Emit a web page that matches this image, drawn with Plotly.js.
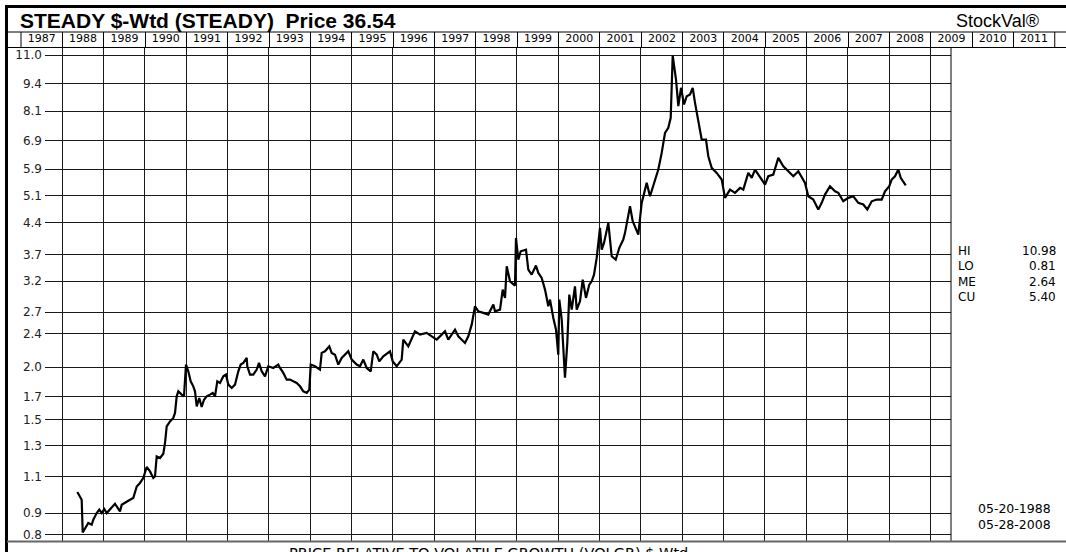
<!DOCTYPE html>
<html><head><meta charset="utf-8">
<script src="https://cdn.plot.ly/plotly-3.0.1.min.js"></script>
<style>html,body{margin:0;padding:0;background:#fff}#chart{width:1066px;height:552px}</style>
</head><body><div id="chart"></div>
<script>
// time in decimal years (weekly series)
const years = [1988.370,1988.476,1988.501,1988.556,1988.636,1988.718,1988.757,1988.839,1988.902,1988.960,
1989.023,1989.081,1989.161,1989.282,1989.323,1989.403,1989.444,1989.565,1989.644,1989.724,1989.807,1989.886,1989.966,
1990.048,1990.128,1990.208,1990.249,1990.290,1990.370,1990.450,1990.491,1990.532,1990.612,1990.692,1990.733,1990.774,1990.813,1990.895,1990.950,
1990.999,1991.054,1991.112,1991.175,1991.216,1991.258,1991.320,1991.378,1991.434,1991.499,1991.579,1991.645,1991.700,1991.756,1991.821,1991.901,1991.966,
1992.022,1992.104,1992.184,1992.264,1992.322,1992.385,1992.467,1992.481,1992.547,1992.626,1992.709,1992.764,1992.830,1992.909,1992.989,
1993.110,1993.231,1993.272,1993.352,1993.434,1993.514,1993.594,1993.676,1993.756,1993.835,1993.918,1993.981,
1994.015,1994.119,1994.239,1994.280,1994.360,1994.464,1994.522,1994.602,1994.682,1994.764,1994.924,
1995.006,1995.127,1995.207,1995.287,1995.369,1995.466,1995.528,1995.611,1995.673,1995.770,1995.932,1995.998,
1996.094,1996.215,1996.254,1996.375,1996.537,1996.658,1996.820,1996.941,
1997.062,1997.183,1997.262,1997.342,1997.504,1997.584,1997.746,1997.826,1997.908,1997.988,
1998.068,1998.189,1998.310,1998.431,1998.472,1998.593,1998.658,1998.714,1998.755,1998.835,1998.955,1998.979,
1999.035,1999.093,1999.221,1999.277,1999.359,1999.463,1999.519,1999.601,1999.681,1999.761,1999.802,1999.882,1999.947,
2000.002,2000.027,2000.085,2000.164,2000.220,2000.268,2000.327,2000.406,2000.448,2000.527,2000.593,2000.672,2000.752,2000.810,2000.866,2000.931,
2001.011,2001.052,2001.108,2001.212,2001.294,2001.391,2001.478,2001.574,2001.616,2001.737,2001.802,2001.858,2001.937,
2002.019,2002.140,2002.220,2002.341,2002.421,2002.503,2002.583,2002.663,2002.721,2002.769,2002.849,2002.905,2002.970,
2003.043,2003.108,2003.188,2003.253,2003.309,2003.388,2003.470,2003.574,2003.630,2003.712,2003.833,2003.954,
2004.034,2004.155,2004.276,2004.397,2004.476,2004.597,2004.680,2004.759,2004.863,
2005.001,2005.081,2005.202,2005.323,2005.444,2005.565,2005.686,2005.807,2005.969,
2006.048,2006.169,2006.290,2006.373,2006.452,2006.573,2006.694,2006.774,2006.895,
2007.016,2007.137,2007.258,2007.379,2007.476,2007.582,2007.703,2007.824,2007.903,
2008.007,2008.065,2008.145,2008.225,2008.283,2008.346,2008.405];
const ratio = [1.011,0.969,0.810,0.826,0.853,0.845,0.869,0.901,0.918,0.901,
0.921,0.901,0.918,0.948,0.934,0.909,0.943,0.960,0.969,0.978,1.042,1.062,1.091,
1.159,1.131,1.091,1.101,1.228,1.217,1.246,1.321,1.447,1.487,1.515,1.557,1.705,1.752,1.721,1.705,
2.028,1.955,1.851,1.801,1.752,1.614,1.690,1.609,1.674,1.705,1.721,1.737,1.705,1.851,1.835,1.902,1.920,
1.818,1.785,1.818,1.955,2.028,2.047,2.103,2.009,1.920,1.920,1.973,2.047,1.955,1.902,2.009,
1.991,2.028,1.991,1.938,1.868,1.868,1.851,1.835,1.801,1.752,1.737,1.769,
2.028,2.009,1.973,2.162,2.181,2.241,2.162,2.141,2.028,2.103,2.181,
2.084,2.028,2.009,2.084,1.991,1.955,2.181,2.141,2.064,2.122,2.181,2.064,
2.009,2.084,2.325,2.241,2.433,2.389,2.411,2.367,
2.325,2.389,2.433,2.325,2.455,2.367,2.283,2.367,2.523,2.789,
2.713,2.690,2.665,2.815,2.713,2.739,3.055,2.920,3.470,3.197,3.123,4.053,
3.600,3.767,3.802,3.408,3.316,3.484,3.347,3.257,3.055,2.789,2.893,2.617,2.455,
2.141,2.893,2.593,1.888,2.283,2.973,2.739,3.111,2.739,2.866,3.227,2.920,3.140,3.197,3.316,3.633,
4.281,3.802,3.944,4.400,3.665,3.600,3.838,4.016,4.166,4.818,4.438,4.319,4.127,
4.908,5.475,5.089,5.575,5.889,6.451,7.196,7.396,7.811,10.98,9.631,8.324,9.204,
8.401,8.791,8.873,9.204,8.479,7.668,6.938,6.938,6.332,5.944,5.783,5.575,
5.044,5.278,5.184,5.328,5.278,5.783,5.627,5.889,5.677,
5.425,5.677,5.729,6.277,5.996,5.834,5.677,5.834,5.475,
5.089,4.998,4.732,4.908,5.136,5.375,5.230,5.184,4.951,
5.044,5.089,4.908,4.863,4.732,4.951,4.998,4.998,5.230,
5.375,5.575,5.677,5.889,5.627,5.523,5.40];

const yTickVals = [11.0,9.4,8.1,6.9,5.9,5.1,4.4,3.7,3.2,2.7,2.4,2.0,1.7,1.5,1.3,1.1,0.9,0.8];
const yTickText = ['11.0','9.4','8.1','6.9','5.9','5.1','4.4','3.7','3.2','2.7','2.4','2.0','1.7','1.5','1.3','1.1','0.9','0.8'];
const headerYears = [1987,1988,1989,1990,1991,1992,1993,1994,1995,1996,1997,1998,1999,2000,2001,2002,2003,2004,2005,2006,2007,2008,2009,2010,2011];
const statLabels = ['HI','LO','ME','CU'];
const statValues = ['10.98','0.81','2.64','5.40'];
const dateRange = ['05-20-1988','05-28-2008'];
const titleText = 'STEADY $-Wtd (STEADY)\u00a0\u00a0Price 36.54';
const brandText = 'StockVal\u00ae';
const footerText = 'PRICE RELATIVE TO VOLATILE GROWTH (VOLGR) $-Wtd';

const W = 1066, H = 552;
const px = v => v / W;
const py = v => 1 - v / H;
const FONT = 'Liberation Sans, Arial, Helvetica, sans-serif';
const WIDE = 'DejaVu Sans, Verdana, sans-serif';

const traces = [
  {x: years, y: ratio, type: 'scatter', mode: 'lines', line: {color: '#000', width: 2.2}, hoverinfo: 'skip', xaxis: 'x', yaxis: 'y'},
  {x: [], y: [], type: 'scatter', mode: 'lines', xaxis: 'x2', yaxis: 'y2', hoverinfo: 'skip'}
];

const annotations = [
  {text: '<b>' + titleText + '</b>', x: px(19), y: py(20), xanchor: 'left', yanchor: 'middle', font: {family: FONT, size: 21, color: '#000'}},
  {text: brandText, x: px(997), y: py(21), xanchor: 'center', yanchor: 'middle', font: {family: FONT, size: 18, color: '#000'}},
  {text: footerText, x: px(488), y: py(544), xanchor: 'center', yanchor: 'top', font: {family: WIDE, size: 14.5, color: '#000'}},
];
statLabels.forEach((s, i) => {
  annotations.push({text: s, x: px(957), y: py(251 + i * 15.3), xanchor: 'left', yanchor: 'middle', font: {family: WIDE, size: 12, color: '#000'}});
  annotations.push({text: statValues[i], x: px(1057), y: py(251 + i * 15.3), xanchor: 'right', yanchor: 'middle', font: {family: WIDE, size: 12, color: '#000'}});
});
dateRange.forEach((d, i) => {
  annotations.push({text: d, x: px(977), y: py(508 + i * 16), xanchor: 'left', yanchor: 'middle', font: {family: WIDE, size: 12.5, color: '#000'}});
});
annotations.forEach(a => { a.xref = 'paper'; a.yref = 'paper'; a.showarrow = false; a.borderpad = 0; });

const L = (x0, y0, x1, y1, w, c) => ({type: 'line', xref: 'paper', yref: 'paper', x0: px(x0), y0: py(y0), x1: px(x1), y1: py(y1), line: {color: c || '#000', width: w || 1}, layer: 'above'});
const shapes = [
  L(5, 6.5, 1066, 6.5, 3),
  L(6.5, 5, 6.5, 552, 3),
  L(7, 32, 1066, 32, 1),
  L(7, 47.5, 1066, 47.5, 1),
  L(21, 32, 21, 47.5, 1),
  L(1054.75, 32, 1054.75, 47.5, 1),
  L(951, 47.5, 951, 541, 1),
  L(7, 541.5, 1066, 541.5, 2, '#666')
];

const layout = {
  width: W, height: H,
  margin: {l: 0, r: 0, t: 0, b: 0, pad: 0},
  paper_bgcolor: '#fff', plot_bgcolor: '#fff',
  showlegend: false,
  xaxis: {
    domain: [px(45), px(951)], range: [1987.5889, 2009.4994],
    tickmode: 'linear', tick0: 1988, dtick: 1,
    showgrid: true, gridcolor: '#1a1a1a', gridwidth: 1,
    showticklabels: false, ticks: '', zeroline: false, showline: false, fixedrange: true
  },
  yaxis: {
    domain: [1 - 541.5 / H, 1 - 47.5 / H], type: 'log', range: [-0.11282, 1.05968],
    tickmode: 'array', tickvals: yTickVals, ticktext: yTickText,
    showgrid: true, gridcolor: '#1a1a1a', gridwidth: 1,
    ticks: '', ticklabelstandoff: 2,
    tickfont: {family: WIDE, size: 12, color: '#222'},
    zeroline: false, showline: false, fixedrange: true
  },
  xaxis2: {
    domain: [px(21), px(1054.75)], range: [1987, 2012], anchor: 'y2', side: 'bottom',
    tickmode: 'array', tickvals: headerYears.map(y => y + 0.5), ticktext: headerYears.map(String),
    ticks: '', ticklabelposition: 'inside', showgrid: false, zeroline: false, showline: false,
    tickfont: {family: WIDE, size: 11, color: '#000'},
    minor: {tickmode: 'linear', tick0: 1987, dtick: 1, showgrid: true, gridcolor: '#000', gridwidth: 1, ticks: ''},
    fixedrange: true
  },
  yaxis2: {domain: [1 - 47.5 / H, 1 - 32 / H], range: [0, 1], visible: false, fixedrange: true},
  shapes: shapes,
  annotations: annotations
};

Plotly.newPlot('chart', traces, layout, {staticPlot: true, displayModeBar: false});
</script>
</body></html>
